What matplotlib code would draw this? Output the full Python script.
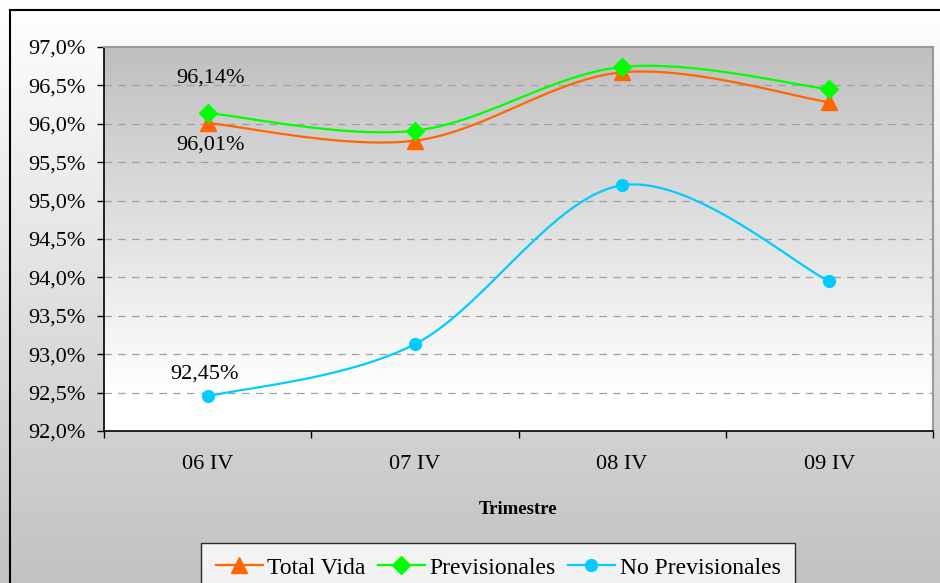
import numpy as np
import matplotlib
matplotlib.use("Agg")
import matplotlib.pyplot as plt
from matplotlib.lines import Line2D

plt.rcParams['font.family'] = ['Liberation Serif', 'DejaVu Serif']

categories = ["06 IV", "07 IV", "08 IV", "09 IV"]
total_vida = [96.01, 95.78, 96.67, 96.28]
previsionales = [96.14, 95.91, 96.74, 96.45]
no_previsionales = [92.45, 93.13, 95.20, 93.95]
y_ticks = [92.0, 92.5, 93.0, 93.5, 94.0, 94.5, 95.0, 95.5, 96.0, 96.5, 97.0]

W, H = 940, 583
fig = plt.figure(figsize=(W / 100, H / 100), dpi=100)

# outer gradient background
bg = fig.add_axes([0, 0, 1, 1], zorder=-10)
grad = np.linspace(0, 1, 256).reshape(-1, 1)
top_c = np.array([1.0, 1.0, 1.0])
bot_c = np.array([0.76, 0.76, 0.76])
img = top_c * (1 - grad[..., None]) + bot_c * grad[..., None]
img = np.clip(img, 0, 1)
bg.imshow(img, aspect='auto', extent=[0, 1, 0, 1], origin='upper')
bg.set_xlim(0, 1); bg.set_ylim(0, 1)
bg.axis('off')
# outer frame (left and top visible)
bg.add_line(Line2D([9.5 / W, 9.5 / W], [0, 1 - 9.5 / H], color='black', lw=1.5))
bg.add_line(Line2D([9.5 / W, 1.2], [1 - 9.5 / H, 1 - 9.5 / H], color='black', lw=1.5))

L, R, T, B = 104, 933, 47, 431
ax = fig.add_axes([L / W, 1 - B / H, (R - L) / W, (B - T) / H])

# plot area gradient
g2 = np.linspace(0, 1, 256)
g2 = np.clip(g2 / 0.9, 0, 1).reshape(-1, 1)
c_top = np.array([0.75, 0.75, 0.75])
c_bot = np.array([1.0, 1.0, 1.0])
img2 = c_top * (1 - g2[..., None]) + c_bot * g2[..., None]
ax.imshow(img2, aspect='auto', extent=[0, 1, 0, 1], origin='upper',
          transform=ax.transAxes, zorder=0)

x = np.arange(len(categories))


def smooth(xs, ys, n=30):
    P = np.column_stack([xs, ys]).astype(float)
    out = []
    m = len(P)
    for i in range(m - 1):
        p0 = P[i - 1] if i > 0 else P[i]
        p1 = P[i]
        p2 = P[i + 1]
        p3 = P[i + 2] if i + 2 < m else P[i + 1]
        c1 = p1 + (p2 - p0) / 6.0
        c2 = p2 - (p3 - p1) / 6.0
        t = np.linspace(0, 1, n)[:, None]
        seg = ((1 - t) ** 3) * p1 + 3 * ((1 - t) ** 2) * t * c1 + 3 * (1 - t) * t ** 2 * c2 + t ** 3 * p2
        out.append(seg if i == 0 else seg[1:])
    s = np.vstack(out)
    return s[:, 0], s[:, 1]


series = [
    (total_vida, "Total Vida", "#FF6600", "^", 11.5),
    (previsionales, "Previsionales", "#00FF00", "D", 9),
    (no_previsionales, "No Previsionales", "#00CCFF", "o", 8.5),
]
handles = []
for vals, name, col, mk, ms in series:
    sx, sy = smooth(x, vals)
    ax.plot(sx, sy, color=col, lw=1.6, zorder=3)
    ax.plot(x, vals, linestyle='none', marker=mk, ms=ms, color=col,
            markeredgecolor=col, zorder=4)
    handles.append(Line2D([], [], color=col, lw=1.6, marker=mk, ms=ms,
                          markeredgecolor=col, label=name))

FS = 16
ax.set_xlim(-0.5, len(categories) - 0.5)
ax.set_ylim(92.0, 97.0)
ax.set_yticks(y_ticks)
ax.set_yticklabels([f"{v:.1f}%".replace('.', ',') for v in y_ticks], fontsize=FS)
ax.set_xticks(x)
ax.set_xticklabels(categories, fontsize=FS)
ax.set_xticks(np.arange(-0.5, len(categories)), minor=True)
ax.tick_params(axis='x', which='major', length=0, pad=17)
ax.tick_params(axis='x', which='minor', length=5, width=1, direction='out')
ax.tick_params(axis='y', which='major', length=5, width=1, direction='out', pad=8)

for yv in y_ticks[1:-1]:
    ax.axhline(yv, color='#a0a0a0', lw=0.9, ls=(0, (6, 5)), zorder=1)

for s in ['left', 'bottom']:
    ax.spines[s].set_color('black')
    ax.spines[s].set_linewidth(1.2)
for s in ['top', 'right']:
    ax.spines[s].set_color('#999999')
    ax.spines[s].set_linewidth(1.5)

ax.set_xlabel("Trimestre", fontsize=13.5, fontweight='bold', labelpad=20)

# data labels
lab = lambda v: f"{v:.2f}%".replace('.', ',')
ax.annotate(lab(previsionales[0]), (x[0], previsionales[0]), xytext=(2, 25),
            textcoords='offset points', ha='center', va='center', fontsize=FS)
ax.annotate(lab(total_vida[0]), (x[0], total_vida[0]), xytext=(2, -16),
            textcoords='offset points', ha='center', va='center', fontsize=FS)
ax.annotate(lab(no_previsionales[0]), (x[0], no_previsionales[0]), xytext=(-2, 16),
            textcoords='offset points', ha='center', va='center', fontsize=FS)

leg = fig.legend(handles=handles, loc='upper center', ncol=3,
                 bbox_to_anchor=(498 / W, 1 - 543 / H), fontsize=17,
                 frameon=True, fancybox=False, edgecolor='black',
                 handlelength=2.0, handletextpad=0.2, columnspacing=0.5,
                 borderpad=0.6, borderaxespad=0)
leg.get_frame().set_linewidth(1.0)
leg.get_frame().set_facecolor('white')

fig.savefig("out.png", dpi=100)
